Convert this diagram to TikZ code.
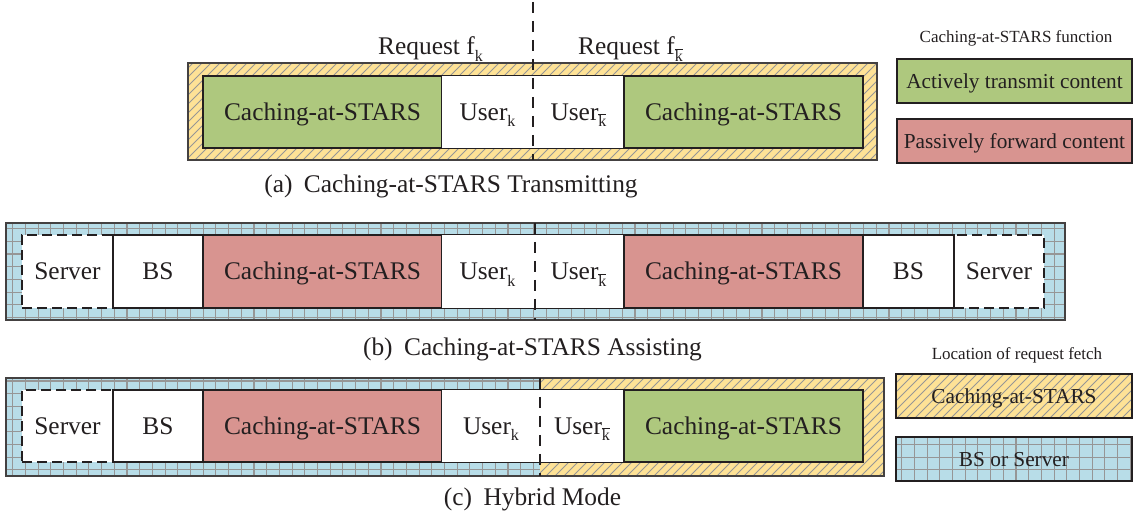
\documentclass[tikz,border=0pt]{standalone}
\usepackage{fontspec}
\setmainfont{Liberation Serif}
\definecolor{cgreen}{RGB}{174,200,126}
\definecolor{cred}{RGB}{216,148,144}
\definecolor{cyellow}{RGB}{254,226,150}
\definecolor{cblue}{RGB}{184,221,232}
\definecolor{ink}{RGB}{35,31,32}
\definecolor{hatchgrey}{RGB}{150,150,150}
\newcommand\subk{\raisebox{-0.25em}{\fontsize{16}{16}\selectfont k}}
\newcommand\subkb{\raisebox{-0.25em}{\fontsize{16}{16}\selectfont$\overline{\mbox{k}}$}}
\newcommand\yhatch[4]{%
  \fill[cyellow] (#1,#2) rectangle (#3,#4);
  \begin{scope}
    \clip (#1,#2) rectangle (#3,#4);
    \foreach \hx in {-120,-111,...,1140} {\draw[hatchline] (\hx,#4) -- ++(120,-120);}
  \end{scope}}
\newcommand\bgrid[4]{%
  \fill[cblue] (#1,#2) rectangle (#3,#4);
  \begin{scope}
    \clip (#1,#2) rectangle (#3,#4);
    \draw[gridline] (#1,#2) grid[step=12.7pt] (#3,#4);
  \end{scope}}
\begin{document}
\begin{tikzpicture}[x=1pt,y=-1pt,
  txt/.style={text=ink, font=\fontsize{25.4}{28}\selectfont},
  smalltxt/.style={text=ink, font=\fontsize{17}{20}\selectfont},
  seg/.style={txt, draw=ink, line width=1.3pt, inner sep=0pt, text height=17pt, text depth=0pt, fill=white},
  bare/.style={txt, inner sep=0pt, text height=17pt, text depth=0pt},
  segdash/.style={seg, dash pattern=on 10pt off 5pt},
  legbox/.style={text=ink, font=\fontsize{21.3}{24}\selectfont, draw=ink, line width=1.3pt, inner sep=0pt, text height=14.5pt, text depth=0pt, minimum width=235pt, minimum height=44pt},
  divider/.style={draw=ink, line width=1.5pt, dash pattern=on 11pt off 8pt},
  outerframe/.style={draw=ink!85, line width=1.5pt},
  hatchline/.style={draw=hatchgrey, line width=1pt},
  gridline/.style={draw=hatchgrey, line width=1.1pt},
  userframe/.style={draw=ink, line width=1.3pt}
]
\useasboundingbox (0,0) rectangle (1133,518);

% ---------- row (a)
\yhatch{188}{63}{877}{160}
\draw[outerframe] (188,63) rectangle (877,160);
\node[seg, fill=cgreen, minimum width=239pt, minimum height=72pt] (a1) at (322.5,112) {Caching-at-STARS};
\node[bare, minimum width=91pt, minimum height=72pt, fill=white] (a2) at (487.5,112) {User\subk};
\node[bare, minimum width=91pt, minimum height=72pt, fill=white] (a3) at (578.5,112) {User\subkb};
\draw[userframe] (a2.north west) rectangle (a3.south east);
\node[seg, fill=cgreen, minimum width=239pt, minimum height=72pt] (a4) at (743.5,112) {Caching-at-STARS};
\coordinate (atop) at (533,2);
\coordinate (abot) at (533,160);
\draw[divider] (atop) -- (abot);
\node[txt, anchor=base] (ra) at (430.5,55) {Request f\subk};
\node[txt, anchor=base] (rb) at (630.5,55) {Request f\subkb};
\node[txt, anchor=base] (capa) at (451,193) {(a)\hspace{0.45em}Caching-at-STARS Transmitting};

% ---------- row (b)
\bgrid{6}{223}{1065}{320}
\draw[outerframe] (6,223) rectangle (1065,320);
\node[segdash, minimum width=91pt, minimum height=73pt] (b1) at (67.5,271.5) {Server};
\node[segdash, minimum width=90pt, minimum height=73pt] (b8) at (999,271.5) {Server};
\node[seg, minimum width=90pt, minimum height=73pt] (b2) at (158,271.5) {BS};
\node[seg, fill=cred, minimum width=239pt, minimum height=73pt] (b3) at (322.5,271.5) {Caching-at-STARS};
\node[bare, minimum width=91pt, minimum height=73pt, fill=white] (b4) at (487.5,271.5) {User\subk};
\node[bare, minimum width=91pt, minimum height=73pt, fill=white] (b5) at (578.5,271.5) {User\subkb};
\draw[userframe] (b4.north west) rectangle (b5.south east);
\node[seg, fill=cred, minimum width=239pt, minimum height=73pt] (b6) at (743.5,271.5) {Caching-at-STARS};
\node[seg, minimum width=91pt, minimum height=73pt] (b7) at (908.5,271.5) {BS};
\coordinate (btop) at (535,223);
\coordinate (bbot) at (535,320);
\draw[divider, line width=1.2pt] (btop) -- (bbot);
\node[txt, anchor=base] (capb) at (532.5,356) {(b)\hspace{0.45em}Caching-at-STARS Assisting};

% ---------- row (c)
\bgrid{6}{378}{540}{476}
\yhatch{540}{378}{884}{476}
\draw[outerframe] (6,378) rectangle (884,476);
\node[segdash, minimum width=91pt, minimum height=72pt] (c1) at (67.5,426) {Server};
\node[seg, minimum width=90pt, minimum height=72pt] (c2) at (158,426) {BS};
\node[seg, fill=cred, minimum width=239pt, minimum height=72pt] (c3) at (322.5,426) {Caching-at-STARS};
\node[bare, minimum width=98pt, minimum height=72pt, fill=white] (c4) at (491,426) {User\subk};
\node[bare, minimum width=84pt, minimum height=72pt, fill=white] (c5) at (582,426) {User\subkb};
\draw[userframe] (c4.north west) rectangle (c5.south east);
\node[seg, fill=cgreen, minimum width=239pt, minimum height=72pt] (c6) at (743.5,426) {Caching-at-STARS};
\coordinate (ctop) at (540,378);
\coordinate (cbot) at (540,476);
\draw[divider] (ctop) -- (cbot);
\node[txt, anchor=base] (capc) at (532.5,505) {(c)\hspace{0.45em}Hybrid Mode};

% ---------- legends
\node[smalltxt, anchor=base] (lt1) at (1016,43) {Caching-at-STARS function};
\node[legbox, fill=cgreen] (lg1) at (1014.5,81) {Actively transmit content};
\node[legbox, fill=cred] (lg2) at (1014.5,141) {Passively forward content};
\node[smalltxt, anchor=base] (lt2) at (1017,360) {Location of request fetch};
\yhatch{896}{374}{1132}{418}
\node[legbox, minimum width=236pt] (lg3) at (1014,396) {Caching-at-STARS};
\bgrid{896}{437}{1132}{481}
\node[legbox, minimum width=236pt] (lg4) at (1014,459) {BS or Server};
\end{tikzpicture}
\end{document}
